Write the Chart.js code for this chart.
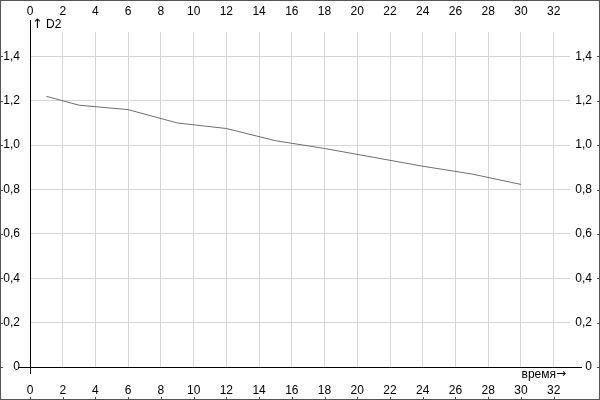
<!DOCTYPE html>
<html>
<head>
<meta charset="utf-8">
<script src="https://cdn.jsdelivr.net/npm/chart.js@4/dist/chart.umd.min.js"></script>
<style>
  html, body { margin: 0; padding: 0; background: #fff; }
  #wrap { width: 600px; height: 400px; position: relative; }
</style>
</head>
<body>
<div id="wrap"><canvas id="chart" width="600" height="400"></canvas></div>
<script>
// Series
const timeValues = [1, 3, 6, 9, 12, 15, 18, 21, 24, 27, 30];
const d2Values = [1.22, 1.18, 1.16, 1.10, 1.075, 1.02, 0.985, 0.945, 0.905, 0.87, 0.823];

// Axis ticks
const xTicks = [0, 2, 4, 6, 8, 10, 12, 14, 16, 18, 20, 22, 24, 26, 28, 30, 32];
const yTicks = [0, 0.2, 0.4, 0.6, 0.8, 1.0, 1.2, 1.4];
const yTickLabels = ['0', '0,2', '0,4', '0,6', '0,8', '1,0', '1,2', '1,4'];

const X_MAX = 33;
const Y_MAX = 1.51;
const FONT = { family: 'Liberation Sans, Arial, sans-serif', size: 12 };
const GRID = '#d4d4d4';

const setTicks = list => scale => { scale.ticks = list.map(v => ({ value: v })); };
const yLabel = v => {
    const i = yTicks.findIndex(t => Math.abs(t - v) < 1e-6);
    return i >= 0 ? yTickLabels[i] : '';
};

// Black axes through zero, axis captions, outer frame
const axesPlugin = {
    id: 'axesPlugin',
    afterDraw(chart) {
        const ctx = chart.ctx;
        const xs = chart.scales.x;
        const ys = chart.scales.y;
        const x0 = Math.round(xs.getPixelForValue(0)) + 0.5;
        const y0 = Math.round(ys.getPixelForValue(0)) + 0.5;
        ctx.save();
        ctx.strokeStyle = '#000';
        ctx.lineWidth = 1;
        ctx.beginPath();
        ctx.moveTo(x0, 20);
        ctx.lineTo(x0, 374);
        ctx.moveTo(18, y0);
        ctx.lineTo(582, y0);
        ctx.stroke();

        // small edge dashes at tick positions
        ctx.strokeStyle = '#444';
        ctx.beginPath();
        yTicks.forEach(v => {
            const p = Math.round(ys.getPixelForValue(v)) + 0.5;
            ctx.moveTo(0, p); ctx.lineTo(3, p);
            ctx.moveTo(597, p); ctx.lineTo(600, p);
        });
        xTicks.forEach(v => {
            const p = Math.round(xs.getPixelForValue(v)) + 0.5;
            ctx.moveTo(p, 397); ctx.lineTo(p, 400);
        });
        ctx.stroke();

        ctx.fillStyle = '#000';
        ctx.textBaseline = 'middle';
        ctx.textAlign = 'left';
        ctx.font = '13px DejaVu Sans';
        ctx.fillText('\u2191', 32, 25);
        ctx.font = `${FONT.size}px ${FONT.family}`;
        ctx.fillText('D2', 46, 25);
        ctx.textAlign = 'right';
        ctx.fillText('время', 556, 375);
        ctx.font = '12px DejaVu Sans';
        ctx.textAlign = 'left';
        ctx.fillText('\u2192', 556, 374);

        ctx.strokeStyle = '#555';
        ctx.strokeRect(0.5, 0.5, 599, 399);
        ctx.restore();
    }
};

new Chart(document.getElementById('chart').getContext('2d'), {
    type: 'line',
    data: {
        datasets: [{
            label: 'D2',
            data: timeValues.map((t, i) => ({ x: t, y: d2Values[i] })),
            borderColor: '#6e6e6e',
            borderWidth: 1,
            pointRadius: 0,
            tension: 0,
            fill: false
        }]
    },
    options: {
        responsive: false,
        animation: false,
        devicePixelRatio: 1,
        layout: { padding: { left: 0, right: 8, top: 0, bottom: 0 } },
        plugins: { legend: { display: false }, tooltip: { enabled: false } },
        scales: {
            x: {
                type: 'linear', position: 'bottom', min: 0, max: X_MAX,
                afterBuildTicks: setTicks(xTicks),
                afterFit: s => { s.height = 33; },
                grid: { color: GRID, drawTicks: false },
                border: { display: false },
                ticks: { font: FONT, color: '#000', padding: 16, maxRotation: 0, autoSkip: false }
            },
            x2: {
                type: 'linear', position: 'top', min: 0, max: X_MAX,
                afterBuildTicks: setTicks(xTicks),
                afterFit: s => { s.height = 32; },
                grid: { display: false, drawTicks: false },
                border: { display: false },
                ticks: { font: FONT, color: '#000', padding: 13, maxRotation: 0, autoSkip: false }
            },
            y: {
                type: 'linear', position: 'left', min: 0, max: Y_MAX,
                afterBuildTicks: setTicks(yTicks),
                afterFit: s => { s.width = 30; },
                grid: { color: GRID, drawTicks: false },
                border: { display: false },
                ticks: { font: FONT, color: '#000', padding: 10, callback: yLabel }
            },
            y2: {
                type: 'linear', position: 'right', min: 0, max: Y_MAX,
                afterBuildTicks: setTicks(yTicks),
                afterFit: s => { s.width = 22; },
                grid: { display: false, drawTicks: false },
                border: { display: false },
                ticks: { font: FONT, color: '#000', padding: 8, crossAlign: 'far', callback: yLabel }
            }
        }
    },
    plugins: [axesPlugin]
});
</script>
</body>
</html>
